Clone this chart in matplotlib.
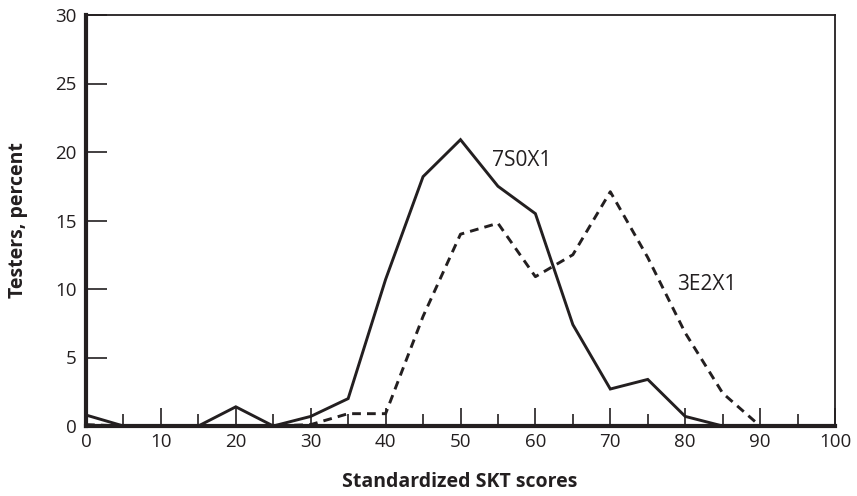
import matplotlib
matplotlib.use("Agg")
import matplotlib.pyplot as plt
from matplotlib.ticker import MultipleLocator

plt.rcParams['font.family'] = ['Open Sans', 'DejaVu Sans']

scores = [0, 5, 10, 15, 20, 25, 30, 35, 40, 45, 50, 55, 60, 65, 70, 75, 80, 85, 90, 95, 100]
s7S0X1 = [0.8, 0, 0, 0, 1.4, 0, 0.7, 2.0, 10.7, 18.2, 20.9, 17.5, 15.5, 7.4, 2.7, 3.4, 0.7, 0, 0, 0, 0]
s3E2X1 = [0.1, 0, 0, 0, 0, 0, 0.1, 0.9, 0.9, 8.0, 14.0, 14.8, 10.9, 12.5, 17.1, 12.3, 6.8, 2.4, 0, 0, 0]
label_a = "7S0X1"
label_b = "3E2X1"

fig = plt.figure(figsize=(8.57, 4.96), dpi=100)
ax = fig.add_axes([86/857, 1-426/496, (835-86)/857, (426-15)/496])

ax.plot(scores, s7S0X1, color='#231f20', lw=2.1, solid_joinstyle='miter', clip_on=False, zorder=3)
ax.plot(scores, s3E2X1, color='#231f20', lw=2.1, linestyle=(0, (3.0, 2.1)), clip_on=False, zorder=3)

ax.text(58.2, 19.4, label_a, fontsize=15, color='#231f20', ha='center', va='center')
ax.text(82.9, 10.3, label_b, fontsize=15, color='#231f20', ha='center', va='center')

ax.set_xlim(0, 100)
ax.set_ylim(0, 30)
ax.xaxis.set_major_locator(MultipleLocator(10))
ax.xaxis.set_minor_locator(MultipleLocator(5))
ax.yaxis.set_major_locator(MultipleLocator(5))

ax.tick_params(axis='x', which='major', direction='in', length=13, width=1.2, color='#231f20',
               labelsize=13.5, labelcolor='#231f20', pad=5)
ax.tick_params(axis='x', which='minor', direction='in', length=9, width=1.2, color='#231f20')
ax.tick_params(axis='y', which='major', direction='in', length=15, width=1.2, color='#231f20',
               labelsize=13.5, labelcolor='#231f20', pad=6.5)

for side in ['left', 'bottom']:
    ax.spines[side].set_linewidth(3.0)
    ax.spines[side].set_color('#231f20')
for side in ['top', 'right']:
    ax.spines[side].set_linewidth(1.3)
    ax.spines[side].set_color('#231f20')

ax.set_xlabel('Standardized SKT scores', fontsize=14, fontweight='bold', color='#231f20')
ax.set_ylabel('Testers, percent', fontsize=14, fontweight='bold', color='#231f20')
ax.xaxis.set_label_coords((460-86)/749, (426-482)/411)
ax.xaxis.label.set_va('center')
ax.yaxis.set_label_coords((18-86)/749, (426-220)/411)
ax.yaxis.label.set_va('center')

fig.savefig('out.png', dpi=100)
